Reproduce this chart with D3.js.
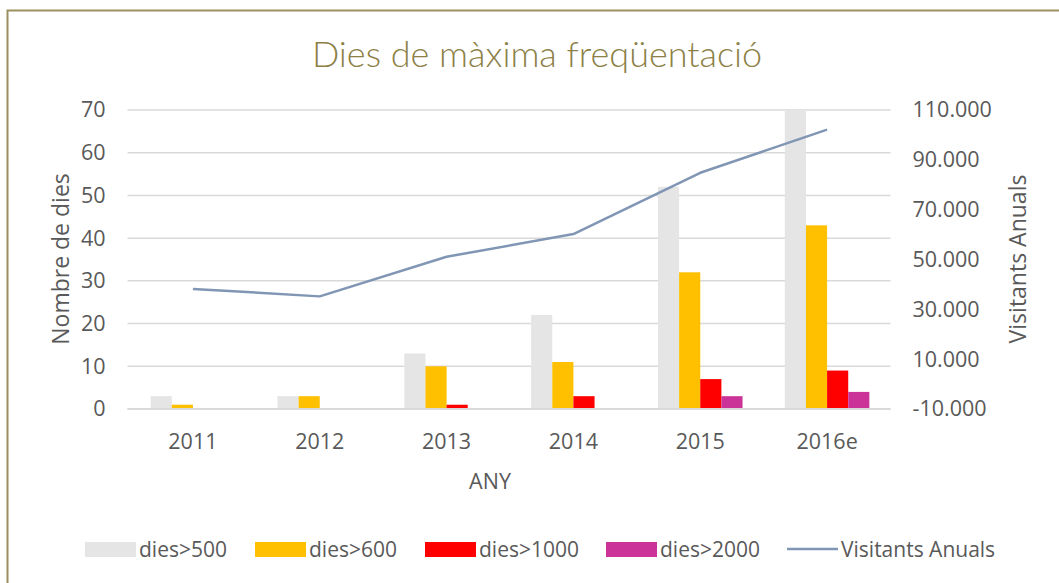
<!DOCTYPE html>
<html><head><meta charset="utf-8">
<script src="https://cdn.jsdelivr.net/npm/d3@7"></script>
<style>
body{margin:0;background:#fff;}
svg{display:block;}
text{font-family:"Open Sans",sans-serif;fill:#595959;}
</style></head>
<body><svg id="c" width="1059" height="583"></svg>
<script>
const years = ["2011","2012","2013","2014","2015","2016e"];
const dies500 = [3,3,13,22,52,70];
const dies600 = [1,3,10,11,32,43];
const dies1000 = [0,0,1,3,7,9];
const dies2000 = [0,0,0,0,3,4];
const visitants = [38200,35200,51100,60200,84800,102100];
const leftTicks = [0,10,20,30,40,50,60,70];
const rightTicks = [-10000,10000,30000,50000,70000,90000,110000];
const seriesNames = ["dies>500","dies>600","dies>1000","dies>2000"];
const lineName = "Visitants Anuals";
const colors = ["#e5e5e5","#ffc000","#ff0000","#cc3399"];
const lineColor = "#8096b4";

const svg = d3.select("#c");
const plot = {l:129.5, r:890.5, t:110, b:409};

// frame
svg.append("rect").attr("x",7.5).attr("y",10.5).attr("width",1100).attr("height",700)
  .attr("fill","none").attr("stroke","#9d9060").attr("stroke-width",2);

svg.append("text").attr("x",537).attr("y",67).attr("text-anchor","middle")
  .style("font-family","Lato").style("font-weight",300).style("font-size","36px")
  .style("fill","#8c8046").text("Dies de màxima freqüentació");

const x = d3.scaleBand().domain(years).range([plot.l,plot.r]).padding(0);
const sub = d3.scaleBand().domain(seriesNames).range([0,x.bandwidth()/1.5]);
const yL = d3.scaleLinear().domain([0,70]).range([plot.b,plot.t]);
const yR = d3.scaleLinear().domain([-10000,110000]).range([plot.b,plot.t]);

// gridlines
svg.append("g").selectAll("line").data(leftTicks).join("line")
  .attr("x1",plot.l-2).attr("x2",plot.r).attr("y1",d=>yL(d)).attr("y2",d=>yL(d))
  .attr("stroke","#d9d9d9").attr("stroke-width",1.5);

// bars
const series = [dies500,dies600,dies1000,dies2000];
series.forEach((vals,si)=>{
  svg.append("g").selectAll("rect").data(vals).join("rect")
    .attr("x",(d,i)=>x(years[i])+x.bandwidth()/6+sub(seriesNames[si]))
    .attr("width",sub.bandwidth())
    .attr("y",d=>yL(d)).attr("height",d=>yL(0)-yL(d))
    .attr("fill",colors[si]);
});

// baseline
svg.append("line").attr("x1",plot.l-2).attr("x2",plot.r).attr("y1",yL(0)).attr("y2",yL(0))
  .attr("stroke","#d9d9d9").attr("stroke-width",2);

// line
const line = d3.line().x((d,i)=>x(years[i])+x.bandwidth()/2).y(d=>yR(d));
svg.append("path").datum(visitants).attr("d",line).attr("fill","none")
  .attr("stroke",lineColor).attr("stroke-width",2.5).attr("stroke-linejoin","round");

// axes
const loc = d3.formatLocale({decimal:",",thousands:".",grouping:[3],currency:["",""],minus:"-"});
const fmt = loc.format(",.0f");
const axL = svg.append("g").attr("transform",`translate(${plot.l-16},0)`)
  .call(d3.axisLeft(yL).tickValues(leftTicks).tickSize(0).tickPadding(8));
const axR = svg.append("g").attr("transform",`translate(${plot.r+14},0)`)
  .call(d3.axisRight(yR).tickValues(rightTicks).tickFormat(fmt).tickSize(0).tickPadding(8));
const axX = svg.append("g").attr("transform",`translate(0,${plot.b+17})`)
  .call(d3.axisBottom(x).tickSize(0).tickPadding(8));
[axL,axR,axX].forEach(a=>{a.select(".domain").remove();
  a.selectAll("text").style("font-family","Open Sans").style("font-size","21.5px").attr("fill","#595959");});

// axis titles
svg.append("text").attr("transform","translate(69,259) rotate(-90)").attr("text-anchor","middle")
  .style("font-size","23px").text("Nombre de dies");
svg.append("text").attr("transform","translate(1026,259) rotate(-90)").attr("text-anchor","middle")
  .style("font-size","23px").text("Visitants Anuals");
svg.append("text").attr("x",490).attr("y",489).attr("text-anchor","middle")
  .style("font-size","21.5px").text("ANY");

// legend
const legItems = [
  {name:seriesNames[0],c:colors[0],x:85},
  {name:seriesNames[1],c:colors[1],x:255},
  {name:seriesNames[2],c:colors[2],x:425},
  {name:seriesNames[3],c:colors[3],x:606},
  {name:lineName,c:lineColor,x:787,line:true}
];
const lg = svg.append("g");
legItems.forEach(it=>{
  if(it.line){
    lg.append("line").attr("x1",it.x).attr("x2",it.x+51).attr("y1",549).attr("y2",549)
      .attr("stroke",it.c).attr("stroke-width",2.5);
  } else {
    lg.append("rect").attr("x",it.x).attr("y",542).attr("width",51).attr("height",15).attr("fill",it.c);
  }
  lg.append("text").attr("x",it.x+54).attr("y",557).style("font-size","21px").text(it.name);
});
</script></body></html>
